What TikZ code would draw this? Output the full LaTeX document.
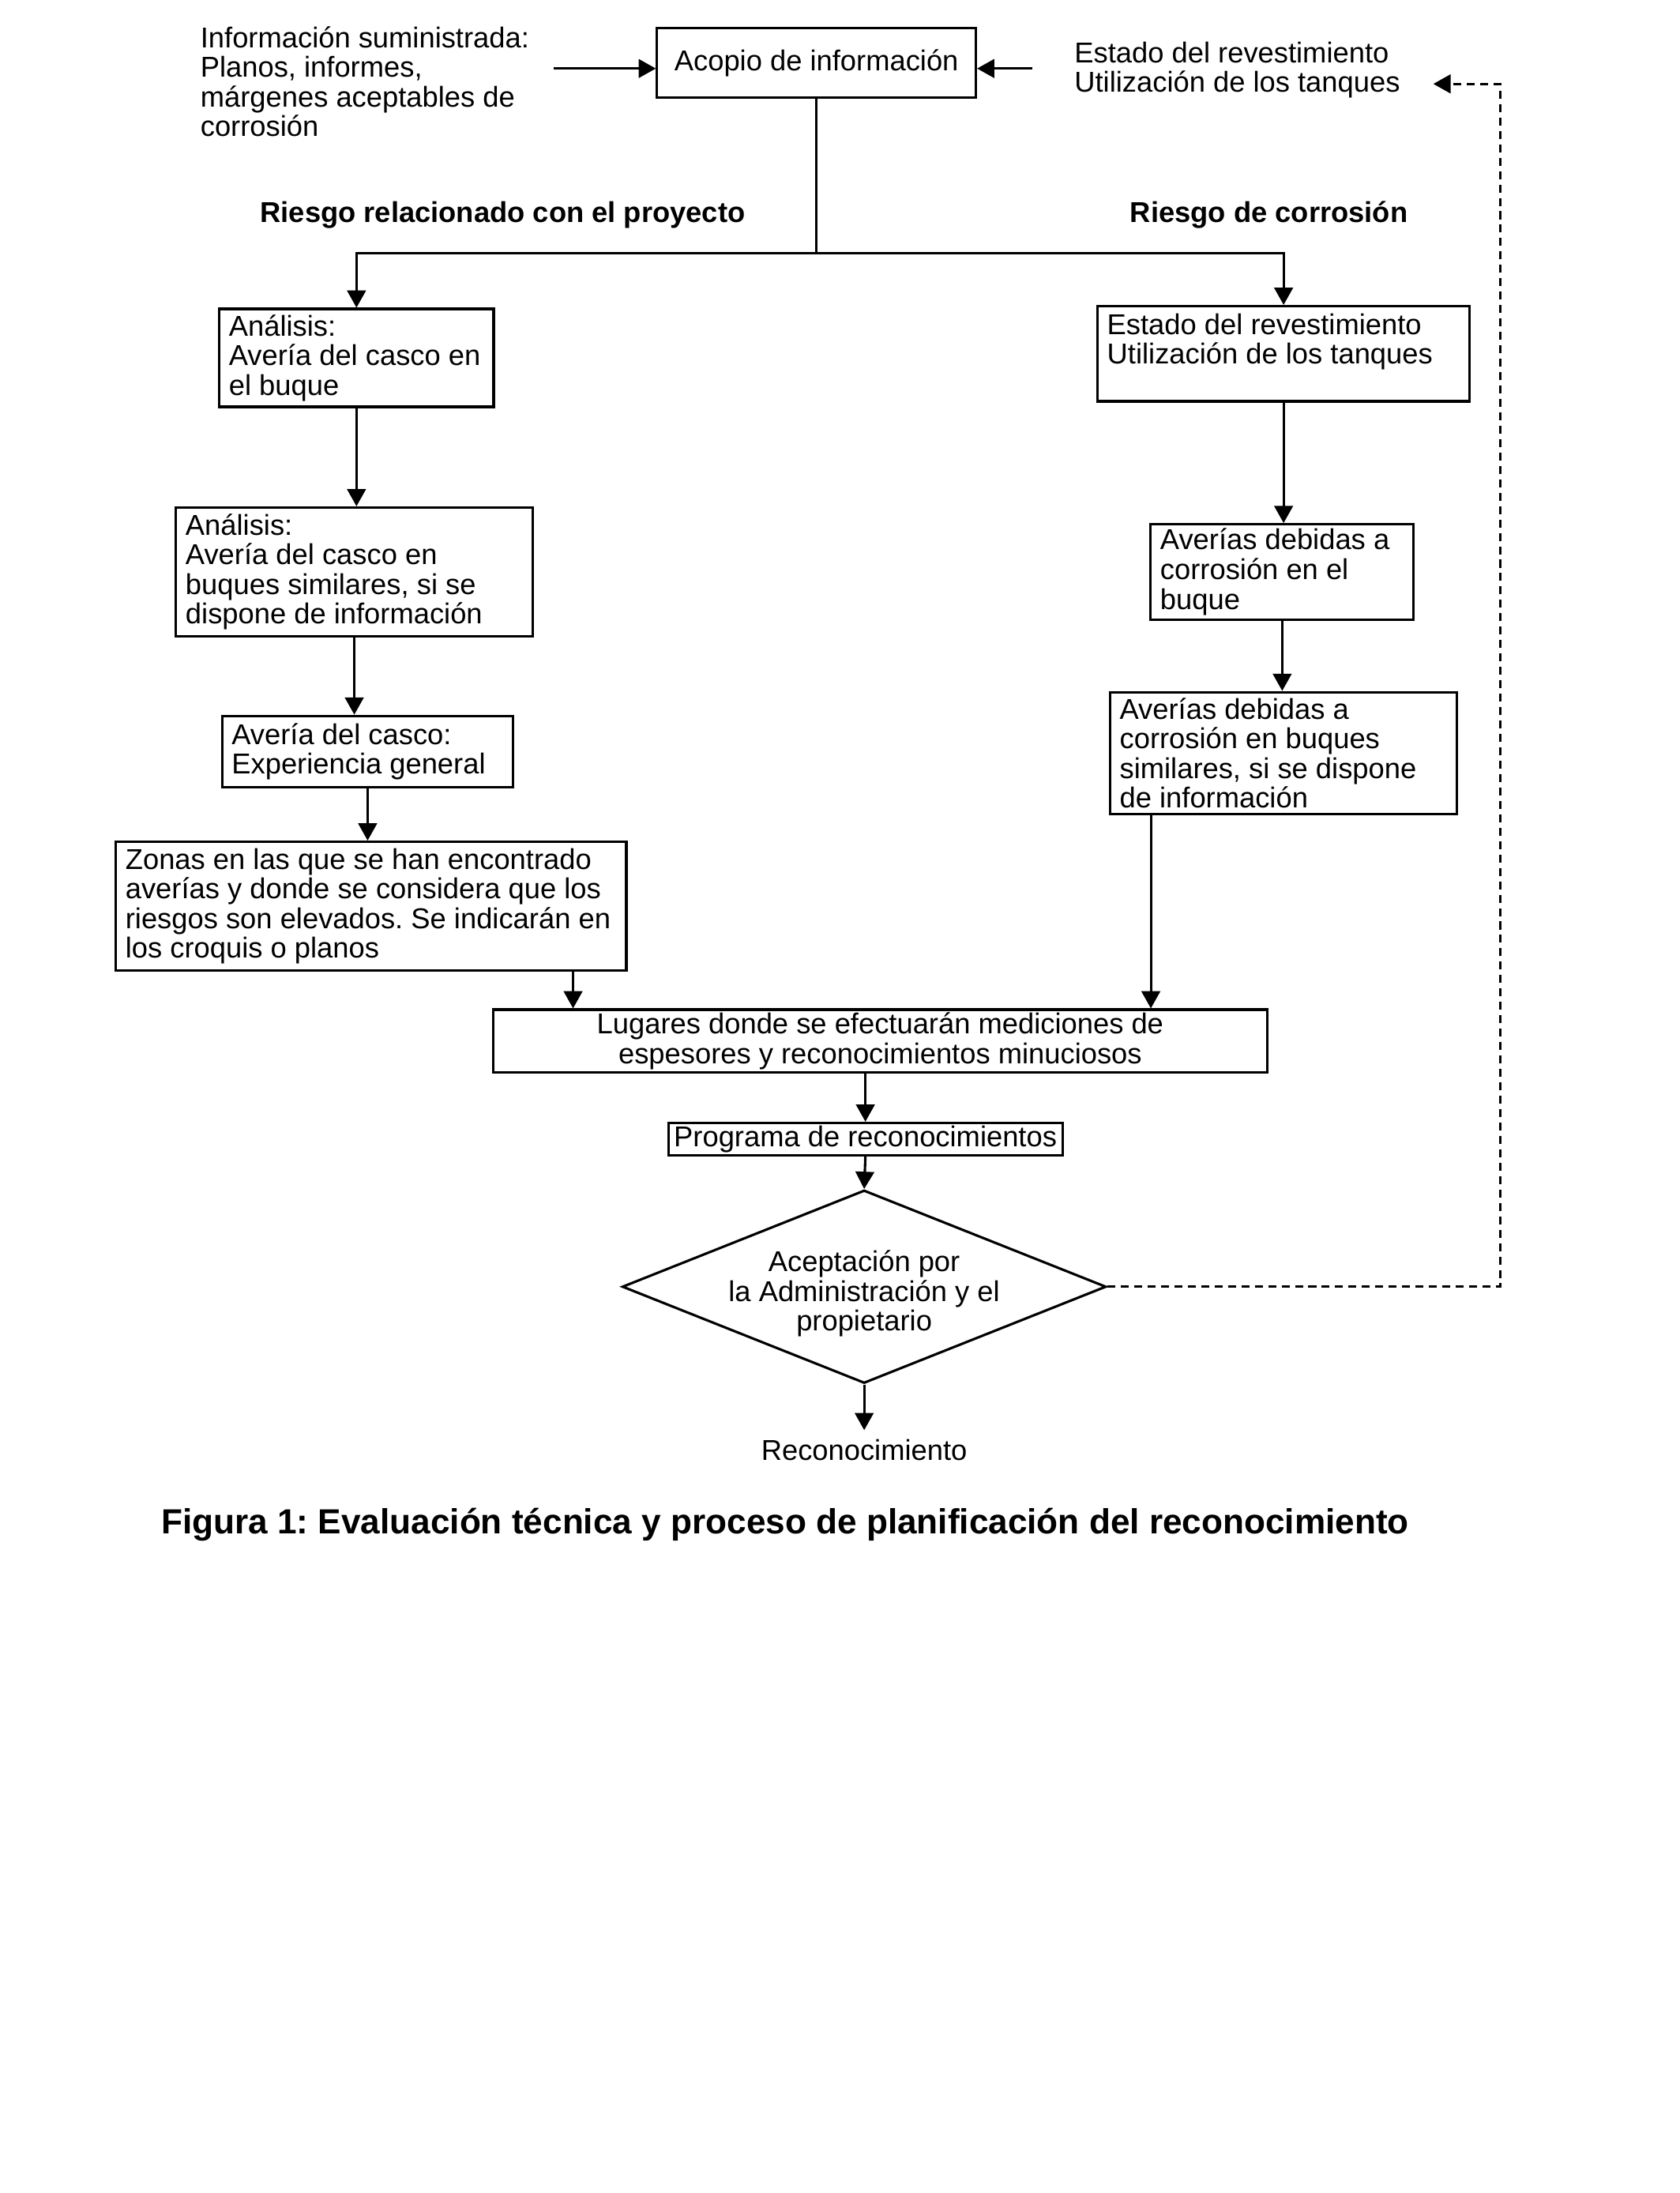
\documentclass[tikz,border=0pt]{standalone}
\usepackage{fontspec}
\setmainfont{Liberation Sans}
\usetikzlibrary{positioning}
\usetikzlibrary{arrows.meta}
\usetikzlibrary{calc}
\usetikzlibrary{shapes.geometric}
\frenchspacing

\begin{document}
\begin{tikzpicture}[
 x=0.017977cm, y=-0.017977cm,
 every node/.style={font=\fontsize{10.5}{10.85}\selectfont},
 box/.style={rectangle, draw=black, line width=0.9pt, align=left, anchor=north west, inner xsep=3.5pt, inner ysep=0pt,
  execute at begin node={\spaceskip=0pt\xspaceskip=0pt}},
 cbox/.style={rectangle, draw=black, line width=0.9pt, align=center, anchor=north west, inner sep=0pt},
 decision/.style={diamond, draw=black, line width=0.9pt, align=center, inner xsep=-5pt, inner ysep=-3pt, shape aspect=2.5, minimum width=177pt, minimum height=70.6pt},
 plain/.style={align=left, anchor=north west, inner sep=0pt},
 heading/.style={font=\fontsize{10.5}{10.85}\selectfont\bfseries, inner sep=0pt},
 arrow/.style={-{Triangle[length=6.3pt, width=6.8pt]}, line width=0.9pt},
 link/.style={line width=0.9pt}
]
\useasboundingbox (0,0) rectangle (1201,1568);

% Information gathering
\node[cbox, minimum width=116.6pt, minimum height=25.6pt] (acopio) at (469,19) {Acopio de información};
\node[plain] (suministrada) at (143,18.5) {Información suministrada:\\Planos, informes,\\márgenes aceptables de\\corrosión};
\node[plain] (estado) at (768,29.5) {Estado del revestimiento\\Utilización de los tanques};
\coordinate (sumin) at (396,49);
\coordinate (estin) at (738,49);
\draw[arrow] (sumin) -- (sumin -| acopio.west);
\draw[arrow] (estin) -- (estin -| acopio.east);

% Branch headings
\node[heading] (proyecto) at (359.5,153.5) {Riesgo relacionado con el proyecto};
\node[heading] (corrosion) at (907.5,153.5) {Riesgo de corrosión};

% Project risk branch
\node[box, text width=93.3pt, minimum height=35.8pt] (casco) at (156,220) {Análisis:\\Avería del casco en\\el buque};
\node[box, text width=123.4pt, minimum height=47.1pt] (similares) at (125,362) {Análisis:\\Avería del casco en\\buques similares, si se\\dispone de información};
\node[box, text width=99.4pt, minimum height=26.1pt] (experiencia) at (158,511) {Avería del casco:\\Experiencia general};
\node[box, text width=179.7pt, minimum height=47.1pt] (zonas) at (82,601) {Zonas en las que se han encontrado\\averías y donde se considera que los\\riesgos son elevados. Se indicarán en\\los croquis o planos};

% Corrosion risk branch
\node[box, text width=129.1pt, minimum height=34.8pt] (revest) at (784,218) {Estado del revestimiento\\Utilización de los tanques\\\mbox{}};
\node[box, text width=89.2pt, minimum height=34.8pt] (buque) at (822,374) {Averías debidas a\\corrosión en el\\buque};
\node[box, text width=119.9pt, minimum height=44.5pt] (buquesim) at (793,494) {Averías debidas a\\corrosión en buques\\similares, si se dispone\\de información};

% Survey planning
\node[cbox, minimum width=282.9pt, minimum height=23pt] (lugares) at (352,721) {Lugares donde se efectuarán mediciones de\\espesores y reconocimientos minuciosos};
\node[cbox, minimum width=144.2pt, minimum height=11.8pt] (programa) at (477,802) {Programa de reconocimientos};
\node[decision] (aceptacion) at (618,920) {\rule{0pt}{12.9pt}Aceptación por\\la Administración y el\\propietario};
\node (recon) at (618,1037) {Reconocimiento};

% Caption
\node[heading, font=\fontsize{12.75}{14}\selectfont\bfseries, anchor=west] (caption) at (115,1090) {Figura 1: Evaluación técnica y proceso de planificación del reconocimiento};

% Split into the two branches
\coordinate (branchy) at (0,181);
\coordinate (split) at (acopio.south |- branchy);
\draw[link] (acopio.south) -- (split);
\draw[arrow] (split) -| (casco.north);
\draw[arrow] (split) -| (revest.north);

% Flow down the left column
\draw[arrow] (casco.south) -- (casco.south |- similares.north);
\draw[arrow] (similares.south) -- (similares.south |- experiencia.north);
\draw[arrow] (experiencia.south) -- (experiencia.south |- zonas.north);
\coordinate (zonasout) at ($(zonas.south east)+(-39,0)$);
\draw[arrow] (zonasout) -- (zonasout |- lugares.north);

% Flow down the right column
\draw[arrow] (revest.south) -- (revest.south |- buque.north);
\draw[arrow] (buque.south) -- (buque.south |- buquesim.north);
\coordinate (buquesimout) at ($(buquesim.south west)+(30,0)$);
\draw[arrow] (buquesimout) -- (buquesimout |- lugares.north);

% Towards the survey
\draw[arrow] (programa.north |- lugares.south) -- (programa.north);
\draw[arrow] (programa.south) -- (aceptacion.north);
\draw[arrow] (aceptacion.south) -- (recon.north);

% Feedback when not accepted
\coordinate (loopcorner) at (1073,60);
\coordinate (loopend) at (1025,60);
\draw[arrow, dash pattern=on 2.9pt off 2pt] (aceptacion.east) -| (loopcorner) -- (loopend);
\end{tikzpicture}
\end{document}
